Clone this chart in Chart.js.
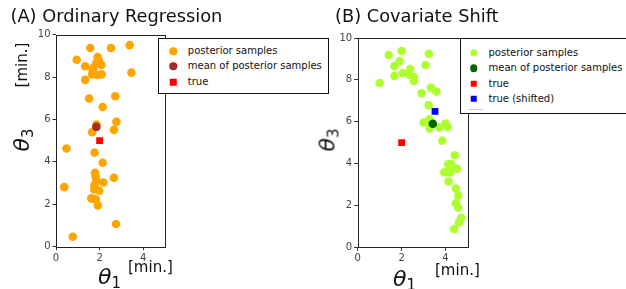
<!DOCTYPE html>
<html><head><meta charset="utf-8">
<script src="https://cdn.jsdelivr.net/npm/chart.js@4"></script>
<style>
html,body{margin:0;padding:0;background:#fff;}
#wrap{position:relative;width:626px;height:289px;overflow:hidden;font-family:"DejaVu Sans",sans-serif;color:#111;}
canvas{position:absolute;left:0;top:0;}
.lbl{position:absolute;white-space:nowrap;line-height:1;}
.c{transform:translate(-50%,-50%);}
.cy{transform:translateY(-50%);}
.rot{transform:translate(-50%,-50%) rotate(-90deg);}
.th{font-style:italic;font-size:22px;}
.th sub{font-style:normal;font-size:15px;vertical-align:-4px;}
.legend{position:absolute;background:#fff;border:1px solid #111;box-sizing:border-box;font-size:10px;}
.item{position:absolute;white-space:nowrap;line-height:1;transform:translateY(-50%);}
.mk{position:absolute;transform:translate(-50%,-50%);}
</style></head>
<body>
<div id="wrap">
<canvas id="cA" width="626" height="289"></canvas>
<canvas id="cB" width="626" height="289"></canvas>
</div>
<script>
// ---------- data ----------
const TICKS_X = [0, 2, 4];
const TICKS_Y = [0, 2, 4, 6, 8, 10];

const A_samples_x = [1.57,2.52,3.38,0.95,1.91,1.97,1.85,2.08,1.72,1.34,1.68,1.66,1.88,2.09,3.46,1.34,1.52,2.72,2.14,2.77,2.66,1.86,1.66,0.48,1.77,2.14,1.79,1.82,1.85,1.76,1.76,2.17,2.66,0.38,1.98,1.62,1.83,1.92,2.75,0.77];
const A_samples_y = [9.37,9.37,9.51,8.82,8.95,8.76,8.67,8.57,8.44,8.51,8.35,8.13,8.10,8.13,8.21,7.87,6.99,7.10,6.59,5.89,5.51,5.76,5.40,4.63,4.44,3.96,3.49,3.30,3.09,2.90,2.70,3.03,3.25,2.81,2.64,2.28,2.23,1.95,1.07,0.47];
const A_mean = [1.85, 5.65];
const A_true = [2.0, 5.0];

const B_samples_x = [1.41,2.00,3.24,1.91,1.67,3.09,2.39,2.05,2.36,2.56,2.56,1.67,1.00,2.91,3.33,3.58,3.23,3.00,3.27,3.27,3.73,4.00,4.09,3.85,4.42,4.12,4.27,4.20,4.52,3.94,4.21,4.14,4.47,4.58,4.47,4.58,4.71,4.61,4.39];
const B_samples_y = [9.19,9.38,9.25,8.89,8.66,8.71,8.52,8.33,8.25,8.14,7.95,8.19,7.85,7.36,7.63,7.44,6.79,5.96,6.12,5.68,5.72,5.91,5.75,5.09,4.40,3.97,3.97,3.80,3.75,3.58,3.59,3.15,2.81,2.48,2.10,1.89,1.41,1.19,0.87];
const B_mean = [3.42, 5.90];
const B_true = [2.0, 5.0];
const B_true_shifted = [3.52, 6.49];

const LEGEND_A = ["posterior samples", "mean of posterior samples", "true"];
const LEGEND_B = ["posterior samples", "mean of posterior samples", "true", "true (shifted)"];

const COL = {orange:'#FFA500', brown:'#A52A2A', red:'#FF0000', lime:'#ADFF2F', dgreen:'#006400', blue:'#0000FF'};

// ---------- helpers ----------
const pts = (xs, ys) => xs.map((x, i) => ({x, y: ys[i]}));
const one = p => [{x: p[0], y: p[1]}];

const framePlugin = {
  id: 'frame',
  afterDraw(chart) {
    const a = chart.chartArea, ctx = chart.ctx;
    ctx.save();
    ctx.strokeStyle = '#222';
    ctx.lineWidth = 1;
    ctx.strokeRect(Math.round(a.left) + 0.5, Math.round(a.top) + 0.5, Math.round(a.right - a.left), Math.round(a.bottom - a.top));
    ctx.restore();
  }
};

function axis(ticks, isX, fitSize) {
  return {
    type: 'linear',
    min: 0, max: isX ? 5 : 10,
    afterBuildTicks: s => { s.ticks = ticks.map(v => ({value: v})); },
    afterFit: s => { if (isX) s.height = fitSize; else s.width = fitSize; },
    grid: {display: true, drawOnChartArea: false, drawTicks: true, tickLength: 3.5, color: '#333', lineWidth: 1},
    border: {display: false},
    ticks: {font: {family: 'DejaVu Sans', size: 10}, color: '#444', padding: 2, maxRotation: 0, autoSkip: false, callback: v => String(v)}
  };
}

function makeChart(id, datasets, pad, yW) {
  return new Chart(document.getElementById(id), {
    type: 'scatter',
    data: {datasets},
    options: {
      responsive: false, animation: false, devicePixelRatio: 1,
      layout: {autoPadding: false, padding: pad},
      plugins: {legend: {display: false}, tooltip: {enabled: false}},
      scales: {x: axis(TICKS_X, true, 30), y: axis(TICKS_Y, false, yW)},
      events: []
    },
    plugins: [framePlugin]
  });
}

const ds = (data, color, style, r, order) => ({data, backgroundColor: color, borderWidth: 0, pointStyle: style, pointRadius: r, order});

makeChart('cA', [
  ds(pts(A_samples_x, A_samples_y), COL.orange, 'circle', 4.3, 3),
  ds(one(A_mean), COL.brown, 'circle', 4.3, 2),
  ds(one(A_true), COL.red, 'rect', 4.8, 1)
], {left: 0, right: 626 - 165, top: 34.7, bottom: 289 - 246.7 - 30}, 56);

makeChart('cB', [
  ds(pts(B_samples_x, B_samples_y), COL.lime, 'circle', 4.3, 4),
  ds(one(B_mean), COL.dgreen, 'circle', 4.3, 3),
  ds(one(B_true), COL.red, 'rect', 4.8, 2),
  ds(one(B_true_shifted), COL.blue, 'rect', 4.8, 1)
], {left: 317.7, right: 626 - 467.5, top: 38, bottom: 289 - 247.3 - 30}, 40);

// ---------- text & legends ----------
const wrap = document.getElementById('wrap');
function addLbl(html, cls, x, y, size) {
  const d = document.createElement('div');
  d.className = 'lbl ' + cls;
  d.style.left = x + 'px'; d.style.top = y + 'px';
  if (size) d.style.fontSize = size + 'px';
  d.innerHTML = html;
  wrap.appendChild(d);
  return d;
}
const TH = n => '<span class="th">θ<sub>' + n + '</sub></span>';

addLbl('(A) Ordinary Regression', 'cy', 10.5, 16, 17.8);
addLbl('(B) Covariate Shift', 'cy', 335, 16, 17.8);

addLbl('[min.]', 'rot', 22, 65, 15);
addLbl(TH(3), 'rot', 23, 140);
addLbl(TH(1), 'cy', 98, 278);
addLbl('[min.]', 'cy', 128, 267, 15);

addLbl(TH(3), 'rot', 329, 140);
addLbl(TH(1), 'cy', 393, 280);
addLbl('[min.]', 'cy', 435, 270, 15);

function legend(x, y, w, h, labels, markers, rows, mx, tx, extra) {
  const L = document.createElement('div');
  L.className = 'legend';
  Object.assign(L.style, {left: x + 'px', top: y + 'px', width: w + 'px', height: h + 'px'});
  labels.forEach((t, i) => {
    const m = document.createElement('div');
    m.className = 'mk';
    const [col, shape] = markers[i];
    Object.assign(m.style, {left: mx + 'px', top: rows[i] + 'px', background: col,
      width: (shape === 'c' ? 7.5 : 6.5) + 'px', height: (shape === 'c' ? 7.5 : 6.5) + 'px',
      borderRadius: shape === 'c' ? '50%' : '0'});
    L.appendChild(m);
    const s = document.createElement('div');
    s.className = 'item';
    s.style.left = tx + 'px'; s.style.top = rows[i] + 'px';
    s.textContent = t;
    L.appendChild(s);
  });
  if (extra) L.appendChild(extra);
  wrap.appendChild(L);
}

legend(158.3, 38, 171, 55.5, LEGEND_A,
  [[COL.orange, 'c'], [COL.brown, 'c'], [COL.red, 's']],
  [12, 27.2, 43], 14, 28.5);

const faint = document.createElement('div');
Object.assign(faint.style, {position: 'absolute', left: '6.5px', top: '69.5px', width: '15px', height: '1px', background: '#ccc'});
legend(460, 38, 180, 75.5, LEGEND_B,
  [[COL.lime, 'c'], [COL.dgreen, 'c'], [COL.red, 's'], [COL.blue, 's']],
  [13.5, 29, 44.5, 59.5], 12.5, 27.5, faint);
</script>
</body></html>
